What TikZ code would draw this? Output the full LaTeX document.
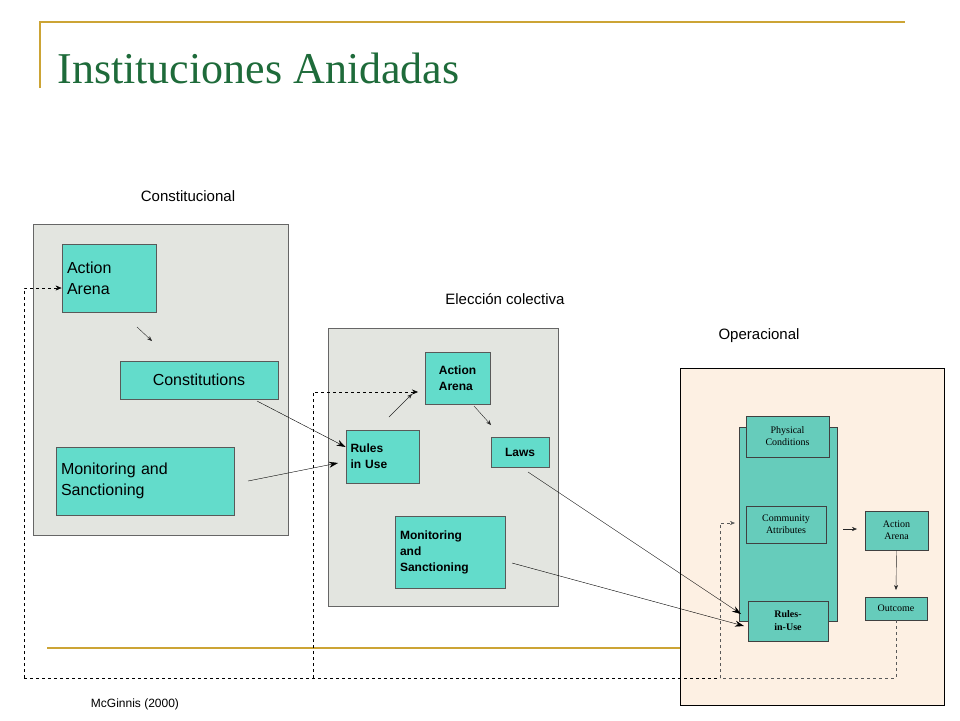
\documentclass[tikz,border=0pt]{standalone}
\usepackage{fontspec}
\setmainfont{Liberation Serif}
\setsansfont{Liberation Sans}
\usetikzlibrary{arrows.meta}
\definecolor{gold}{HTML}{CCA435}
\definecolor{ttl}{HTML}{1E6B3A}
\definecolor{panel}{HTML}{E3E5E0}
\definecolor{peach}{HTML}{FDF0E3}
\definecolor{teal1}{HTML}{63DCCB}
\definecolor{teal2}{HTML}{66CCBB}
\begin{document}
\begin{tikzpicture}[x=1pt,y=-1pt,
  pan/.style={draw=gray!80!black,fill=panel},
  tb/.style={draw=gray!70!black,fill=teal1,line width=0.8pt},
  ob/.style={draw=gray!50!black,fill=teal2,line width=0.8pt},
  lbl/.style={font=\sffamily\fontsize{15}{18}\selectfont},
  con/.style={-{Stealth[length=9pt,width=6pt]},black},
  sm/.style={-{Stealth[length=5pt,width=4pt]},gray!30!black},
  dsh/.style={dashed,black},
  gdsh/.style={dashed,gray!70!black}]
\useasboundingbox (0,0) rectangle (960,720);
\fill[white] (0,0) rectangle (960,720);
% gold lines
\draw[gold,line width=1.5pt] (40,88) -- (40,22) -- (905,22);
\draw[gold,line width=1.5pt] (47,648) -- (912,648);
\node[anchor=west,text=ttl,font=\fontsize{44}{50}\selectfont] (title) at (54,68) {Instituciones Anidadas};
% panel 1
\node[lbl] (l1) at (188,196) {Constitucional};
\path[pan] (33,224) rectangle (288,535);
\node[tb,minimum width=94pt,minimum height=68pt,align=left,font=\sffamily\fontsize{16}{21}\selectfont,text width=84pt] (aa1) at (109,278) {Action\\Arena};
\node[tb,minimum width=158pt,minimum height=38pt,font=\sffamily\fontsize{16}{21}\selectfont] (co) at (199,380) {Constitutions};
\node[tb,minimum width=178pt,minimum height=68pt,align=left,text width=168pt,font=\sffamily\fontsize{16}{21}\selectfont] (ms1) at (145,481) {Monitoring and\\Sanctioning};
\coordinate (s1a) at (137,327); \coordinate (s1b) at (152,341);
\draw[sm] (s1a) -- (s1b);
% panel 2
\node[lbl] (l2) at (505,299) {Elección colectiva};
\path[pan] (328,328) rectangle (558,606);
\node[tb,minimum width=65pt,minimum height=52pt,align=left,font=\sffamily\bfseries\fontsize{12}{16}\selectfont] (aa2) at (457.5,378) {Action\\Arena};
\node[tb,minimum width=73pt,minimum height=53pt,align=left,text width=64pt,font=\sffamily\bfseries\fontsize{12}{16}\selectfont] (riu) at (382.5,456.5) {Rules\\in Use};
\node[tb,minimum width=58pt,minimum height=30pt,font=\sffamily\bfseries\fontsize{12}{16}\selectfont] (laws) at (520,452) {Laws};
\node[tb,minimum width=110pt,minimum height=72pt,align=left,text width=100pt,font=\sffamily\bfseries\fontsize{12}{16}\selectfont] (ms2) at (450,552) {Monitoring\\and\\Sanctioning};
\coordinate (s2a) at (389,417); \coordinate (s2b) at (412,394);
\coordinate (s3a) at (474,406); \coordinate (s3b) at (491,425);
\draw[sm] (s2a) -- (s2b);
\draw[sm] (s3a) -- (s3b);
% panel 3
\node[lbl] (l3) at (759,336) {Operacional};
\path[draw=black,fill=peach] (680,368) rectangle (944,705);
\path[ob] (739,427) rectangle (837,621);
\node[ob,minimum width=83pt,minimum height=41pt,align=center,font=\fontsize{10}{12}\selectfont] (pc) at (787.5,436.5) {Physical\\Conditions};
\node[ob,minimum width=80pt,minimum height=37pt,align=center,font=\fontsize{10}{12}\selectfont] (ca) at (786,524.5) {Community\\Attributes};
\node[ob,minimum width=80pt,minimum height=40pt,align=center,font=\bfseries\fontsize{10}{13}\selectfont] (ru) at (788,621) {Rules-\\in-Use};
\node[ob,minimum width=63pt,minimum height=39pt,align=center,font=\fontsize{10}{12}\selectfont] (aa3) at (896.5,530.5) {Action\\Arena};
\node[ob,minimum width=62pt,minimum height=23pt,font=\fontsize{10}{12}\selectfont] (oc) at (896,608.5) {Outcome};
\coordinate (s4a) at (843,529); \coordinate (s4b) at (857,529);
\draw[sm] (s4a) -- (s4b);
\draw[sm] (aa3.south) -- (896,590);
% connectors
\coordinate (c1) at (257,401);
\draw[con] (c1) -- (riu.west |- 0,447);
\coordinate (c2) at (248,481);
\draw[con] (c2) -- (338,463);
\coordinate (c3) at (528,472);
\draw[con] (c3) -- (741,614);
\coordinate (c4) at (512,563);
\draw[con] (c4) -- (744,626);
% dashed feedback
\coordinate (d0) at (24,678); \coordinate (d1) at (24,288);
\coordinate (d2) at (313,678); \coordinate (d3) at (313,392);
\coordinate (d4) at (720,678); \coordinate (d5) at (720,523);
\coordinate (d6) at (896,678);
\draw[dsh] (d0) -- (d4);
\draw[dsh,-{Stealth[length=6pt,width=5pt]}] (d0) -- (d1) -- (aa1.west |- d1);
\draw[dsh,-{Stealth[length=6pt,width=5pt]}] (d2) -- (d3) -- (418,392);
\draw[gdsh] (oc.south) -- (d6) -- (d4);
\draw[gdsh,-{Stealth[length=5pt,width=4pt]}] (d4) -- (d5) -- (735,523);
\node[font=\sffamily\fontsize{12}{14}\selectfont] (mc) at (135,704) {McGinnis (2000)};
\end{tikzpicture}
\end{document}
